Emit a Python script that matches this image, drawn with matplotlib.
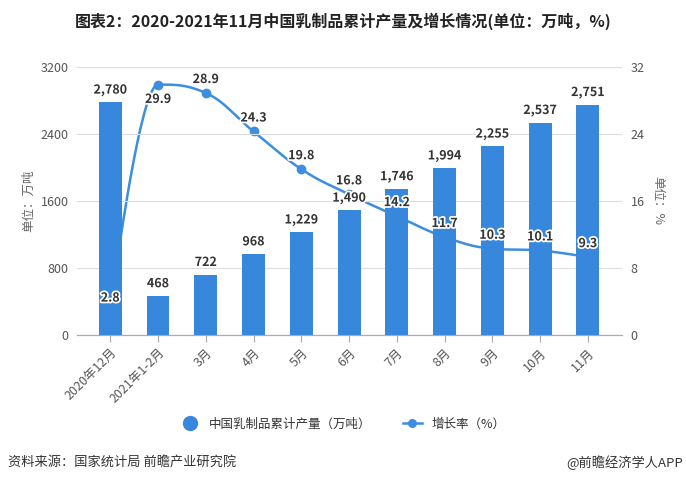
import numpy as np
import matplotlib
matplotlib.use("Agg")
import matplotlib.pyplot as plt
import matplotlib.patheffects as pe
from matplotlib.lines import Line2D

plt.rcParams['font.family'] = ['Noto Sans CJK SC', 'DejaVu Sans']

# 数据
months = ['2020年12月', '2021年1-2月', '3月', '4月', '5月', '6月', '7月', '8月', '9月', '10月', '11月']
output = [2780, 468, 722, 968, 1229, 1490, 1746, 1994, 2255, 2537, 2751]
growth = [2.8, 29.9, 28.9, 24.3, 19.8, 16.8, 14.2, 11.7, 10.3, 10.1, 9.3]
# 增长率标签放在点下方的位置
below = [1]

bar_color = '#3787dc'
line_color = '#3b8ee0'
text_color = '#333333'
tick_color = '#555555'


def spline(x, y, n=40, smoothing=1.5):
    # 平滑曲线 (三次贝塞尔, 控制点按相邻点计算, 只用于画线)
    x = np.asarray(x, float)
    y = np.asarray(y, float)
    m = len(x)
    lx, ly = x.copy(), y.copy()
    rx, ry = x.copy(), y.copy()
    d = smoothing + 1
    for i in range(1, m - 1):
        lx[i] = (smoothing * x[i] + x[i - 1]) / d
        ly[i] = (smoothing * y[i] + y[i - 1]) / d
        rx[i] = (smoothing * x[i] + x[i + 1]) / d
        ry[i] = (smoothing * y[i] + y[i + 1]) / d
        corr = (ry[i] - ly[i]) * (rx[i] - x[i]) / (rx[i] - lx[i]) + y[i] - ry[i]
        ly[i] += corr
        ry[i] += corr
        # 避免出现假的极值
        if ly[i] > y[i - 1] and ly[i] > y[i]:
            ly[i] = max(y[i - 1], y[i])
            ry[i] = 2 * y[i] - ly[i]
        elif ly[i] < y[i - 1] and ly[i] < y[i]:
            ly[i] = min(y[i - 1], y[i])
            ry[i] = 2 * y[i] - ly[i]
        if ry[i] > y[i + 1] and ry[i] > y[i]:
            ry[i] = max(y[i + 1], y[i])
            ly[i] = 2 * y[i] - ry[i]
        elif ry[i] < y[i + 1] and ry[i] < y[i]:
            ry[i] = min(y[i + 1], y[i])
            ly[i] = 2 * y[i] - ry[i]
    t = np.linspace(0, 1, n)[:, None]
    xs, ys = [], []
    for i in range(m - 1):
        P = np.array([[x[i], y[i]], [rx[i], ry[i]], [lx[i + 1], ly[i + 1]], [x[i + 1], y[i + 1]]])
        B = ((1 - t) ** 3) * P[0] + 3 * ((1 - t) ** 2) * t * P[1] \
            + 3 * (1 - t) * t ** 2 * P[2] + t ** 3 * P[3]
        xs.append(B[:, 0])
        ys.append(B[:, 1])
    return np.concatenate(xs), np.concatenate(ys)


fig = plt.figure(figsize=(6.86, 4.82), dpi=100)
ax = fig.add_axes([0.112, 0.305, 0.795, 0.556])
ax2 = ax.twinx()

x = np.arange(len(months))

# 折线画在柱子后面
ax.set_zorder(2)
ax2.set_zorder(1)
ax.patch.set_visible(False)

sx, sy = spline(x, growth)
ax2.plot(sx, sy, color=line_color, lw=1.8, zorder=2)
ax2.plot(x, growth, 'o', color=line_color, ms=6, zorder=3)

ax.bar(x, output, width=0.48, color=bar_color, zorder=3)

halo = [pe.withStroke(linewidth=2.5, foreground='white')]
for xi, v in zip(x, output):
    ax.annotate(f'{v:,}', (xi, v), xytext=(0, 4), textcoords='offset points',
                ha='center', va='bottom', fontsize=9, fontweight='bold',
                color=text_color, zorder=5, path_effects=halo)
for i, (xi, v) in enumerate(zip(x, growth)):
    r = v * 100  # 换算到左轴
    if i in below:
        off, va = (0, -6), 'top'
    else:
        off, va = (0, 5), 'bottom'
    ax.annotate(f'{v}', (xi, r), xytext=off, textcoords='offset points',
                ha='center', va=va, fontsize=9, fontweight='bold',
                color=text_color, zorder=6, path_effects=halo)

ax.set_xlim(-0.7, 10.72)
ax.set_ylim(0, 3200)
ax2.set_ylim(0, 32)
ax.set_yticks([0, 800, 1600, 2400, 3200])
ax2.set_yticks([0, 8, 16, 24, 32])
ax.grid(axis='y', color='#dddddd', lw=0.8, zorder=0)
ax.set_axisbelow(True)

for a in (ax, ax2):
    for s in ('top', 'left', 'right'):
        a.spines[s].set_visible(False)
    a.spines['bottom'].set_color('#aaaaaa')
ax.tick_params(axis='y', length=0, pad=6, labelsize=9, labelcolor=tick_color)
ax2.tick_params(axis='y', length=0, pad=6, labelsize=9, labelcolor=tick_color)
ax.set_xticks(x)
ax.set_xticklabels(months, rotation=45, ha='right', rotation_mode='anchor',
                   fontsize=9, color=tick_color)
ax.tick_params(axis='x', length=5, color='#aaaaaa', pad=3)

ax.set_ylabel('单位：万吨', fontsize=9, color='#666666', labelpad=4)
ax2.set_ylabel('单位：%', fontsize=9, color='#666666', rotation=270,
               labelpad=14)

fig.text(0.5, 0.955, '图表2：2020-2021年11月中国乳制品累计产量及增长情况(单位：万吨，%)',
         ha='center', va='center', fontsize=11.5, fontweight='bold',
         color='#222222')

handles = [
    Line2D([], [], marker='o', ls='none', color=bar_color, ms=10),
    Line2D([], [], marker='o', color=line_color, ms=5.5, lw=1.8),
]
fig.legend(handles, ['中国乳制品累计产量（万吨）', '增长率（%）'],
           loc='center', bbox_to_anchor=(0.5, 0.12), ncol=2, frameon=False,
           fontsize=9, columnspacing=2.5, handlelength=1.5,
           labelcolor=text_color)

fig.text(0.012, 0.04, '资料来源：国家统计局 前瞻产业研究院', ha='left', va='center',
         fontsize=9.5, color=text_color)
fig.text(0.996, 0.04, '@前瞻经济学人APP', ha='right', va='center',
         fontsize=9.5, color=text_color)

fig.savefig('out.png', dpi=100)
